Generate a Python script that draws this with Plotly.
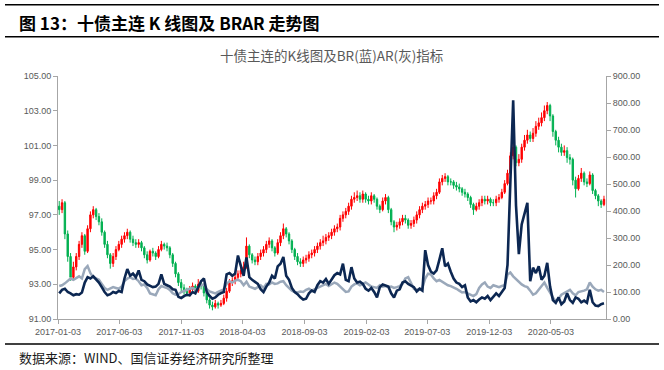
import pandas as pd
import plotly.graph_objects as go

# ---------------- data (weekly) ----------------
start_date = "2017-01-06"
n_weeks = 193

close_px = [97.3, 97.7, 95.9, 94.6, 93.4, 94.0, 94.6, 95.3, 95.8, 94.9,
            96.2, 97.0, 97.3, 96.9, 96.6, 96.0, 95.3, 94.7, 94.2, 94.6,
            95.0, 95.3, 95.6, 95.8, 96.0, 95.6, 95.4, 95.3, 95.4, 95.1,
            94.7, 94.4, 94.9, 94.8, 94.6, 95.0, 95.3, 95.2, 95.1, 94.7,
            94.2, 93.6, 93.1, 92.8, 92.6, 92.5, 92.7, 92.9, 92.6, 93.0,
            92.9, 92.5, 92.1, 91.8, 91.7, 91.9, 91.8, 91.9, 92.2, 92.6,
            93.1, 93.2, 93.4, 93.6, 93.8, 94.0, 95.2, 94.7, 94.4, 94.3,
            94.6, 94.8, 95.0, 95.3, 95.5, 95.1, 94.8, 95.4, 95.8, 96.2,
            95.9, 95.5, 95.0, 94.6, 94.3, 94.2, 94.4, 94.5, 94.7, 94.8,
            95.0, 95.2, 95.4, 95.5, 95.7, 95.8, 96.0, 96.2, 96.3, 96.8,
            97.0, 97.2, 97.5, 97.9, 98.0, 98.1, 97.9, 98.2, 97.9, 97.8,
            98.1, 97.9, 97.5, 97.3, 97.8, 98.0, 97.3, 96.6, 96.3, 96.4,
            96.6, 96.8, 96.7, 96.4, 96.5, 96.7, 97.0, 97.3, 97.5, 97.6,
            97.8, 97.8, 98.1, 98.3, 98.9, 99.1, 99.2, 98.9, 98.9, 98.7,
            98.6, 98.5, 98.3, 98.2, 98.0, 97.6, 97.3, 97.5, 97.7, 97.9,
            97.8, 97.9, 97.7, 97.7, 97.9, 98.0, 98.3, 98.8, 99.4, 100.4,
            100.9, 100.0, 100.2, 100.9, 101.3, 101.6, 101.4, 101.7, 102.1, 102.3,
            102.6, 103.0, 103.3, 102.7, 101.8, 101.3, 100.9, 100.6, 100.7, 100.3,
            100.2, 99.0, 98.5, 99.1, 99.4, 98.9, 98.8, 99.3, 98.4, 98.1,
            97.8, 97.6, 97.9]

open_px = [97.5, 97.3, 97.7, 95.9, 94.6, 93.4, 94.0, 94.6, 95.3, 95.8,
           94.9, 96.2, 97.0, 97.3, 96.9, 96.6, 96.0, 95.3, 94.7, 94.2,
           94.6, 95.0, 95.3, 95.6, 95.8, 96.0, 95.6, 95.4, 95.3, 95.4,
           95.1, 94.7, 94.4, 94.9, 94.8, 94.6, 95.0, 95.3, 95.2, 95.1,
           94.7, 94.2, 93.6, 93.1, 92.8, 92.6, 92.5, 92.7, 92.9, 92.6,
           93.0, 92.9, 92.5, 92.1, 91.8, 91.7, 91.9, 91.8, 91.9, 92.2,
           92.6, 93.1, 93.2, 93.4, 93.6, 93.8, 94.0, 95.2, 94.7, 94.4,
           94.3, 94.6, 94.8, 95.0, 95.3, 95.5, 95.1, 94.8, 95.4, 95.8,
           96.2, 95.9, 95.5, 95.0, 94.6, 94.3, 94.2, 94.4, 94.5, 94.7,
           94.8, 95.0, 95.2, 95.4, 95.5, 95.7, 95.8, 96.0, 96.2, 96.3,
           96.8, 97.0, 97.2, 97.5, 97.9, 98.0, 98.1, 97.9, 98.2, 97.9,
           97.8, 98.1, 97.9, 97.5, 97.3, 97.8, 98.0, 97.3, 96.6, 96.3,
           96.4, 96.6, 96.8, 96.7, 96.4, 96.5, 96.7, 97.0, 97.3, 97.5,
           97.6, 97.8, 97.8, 98.1, 98.3, 98.9, 99.1, 99.2, 98.9, 98.9,
           98.7, 98.6, 98.5, 98.3, 98.2, 98.0, 97.6, 97.3, 97.5, 97.7,
           97.9, 97.8, 97.9, 97.7, 97.7, 97.9, 98.0, 98.3, 98.8, 99.4,
           100.4, 100.9, 100.0, 100.2, 100.9, 101.3, 101.6, 101.4, 101.7, 102.1,
           102.3, 102.6, 103.0, 103.3, 102.7, 101.8, 101.3, 100.9, 100.6, 100.7,
           100.3, 100.2, 99.0, 98.5, 99.1, 99.4, 98.9, 98.8, 99.3, 98.4,
           98.1, 97.8, 97.6]

high_px = [97.8, 97.9, 97.8, 96.1, 94.8, 94.3, 94.8, 95.5, 96.0, 95.9,
           96.4, 97.2, 97.5, 97.4, 97.1, 96.8, 96.1, 95.5, 94.8, 94.8,
           95.2, 95.5, 95.8, 96.0, 96.2, 96.1, 95.8, 95.6, 95.6, 95.5,
           95.2, 94.9, 95.0, 95.1, 94.9, 95.2, 95.5, 95.4, 95.4, 95.2,
           94.8, 94.3, 93.7, 93.3, 93.0, 92.8, 92.9, 93.1, 93.0, 93.3,
           93.2, 93.0, 92.6, 92.2, 92.0, 92.1, 92.0, 92.1, 92.4, 92.8,
           93.3, 93.4, 93.6, 93.8, 94.0, 94.3, 95.7, 95.3, 94.8, 94.6,
           94.8, 95.0, 95.2, 95.5, 95.7, 95.6, 95.2, 95.6, 96.0, 96.5,
           96.3, 96.0, 95.6, 95.1, 94.8, 94.5, 94.6, 94.7, 94.9, 95.0,
           95.2, 95.4, 95.6, 95.8, 95.9, 96.0, 96.2, 96.4, 96.5, 97.0,
           97.2, 97.4, 97.7, 98.1, 98.3, 98.4, 98.3, 98.4, 98.3, 98.1,
           98.3, 98.2, 98.0, 97.6, 98.0, 98.2, 98.1, 97.4, 96.7, 96.6,
           96.8, 97.0, 97.0, 96.8, 96.7, 96.9, 97.2, 97.5, 97.7, 97.8,
           98.0, 98.0, 98.3, 98.5, 99.1, 99.3, 99.4, 99.3, 99.1, 99.0,
           98.9, 98.8, 98.6, 98.5, 98.3, 98.1, 97.7, 97.7, 97.9, 98.1,
           98.1, 98.1, 98.0, 97.9, 98.1, 98.2, 98.5, 99.0, 99.6, 100.6,
           101.2, 101.0, 100.5, 101.1, 101.6, 101.9, 101.8, 102.0, 102.4, 102.6,
           102.9, 103.3, 103.5, 103.4, 102.8, 101.9, 101.5, 101.1, 101.0, 100.9,
           100.5, 100.3, 99.2, 99.3, 99.7, 99.5, 99.1, 99.5, 99.4, 98.5,
           98.2, 97.9, 98.1]

low_px = [97.0, 97.1, 95.6, 94.3, 93.2, 93.2, 93.8, 94.4, 95.1, 94.7,
          94.8, 96.0, 96.8, 96.7, 96.4, 95.8, 95.1, 94.5, 93.9, 94.0,
          94.4, 94.9, 95.1, 95.4, 95.6, 95.4, 95.2, 95.1, 95.1, 94.9,
          94.5, 94.2, 94.3, 94.6, 94.4, 94.5, 94.9, 95.0, 94.9, 94.5,
          94.0, 93.4, 92.9, 92.6, 92.4, 92.3, 92.3, 92.5, 92.4, 92.5,
          92.7, 92.3, 91.9, 91.6, 91.5, 91.6, 91.6, 91.7, 91.8, 92.0,
          92.5, 92.9, 93.0, 93.2, 93.4, 93.6, 93.9, 94.5, 94.2, 94.1,
          94.1, 94.4, 94.6, 94.8, 95.1, 94.9, 94.6, 94.7, 95.2, 95.6,
          95.7, 95.3, 94.8, 94.4, 94.1, 94.0, 94.0, 94.2, 94.3, 94.5,
          94.6, 94.8, 95.0, 95.2, 95.3, 95.5, 95.6, 95.8, 96.0, 96.1,
          96.6, 96.8, 97.0, 97.3, 97.7, 97.8, 97.7, 97.7, 97.7, 97.6,
          97.6, 97.7, 97.3, 97.1, 97.2, 97.6, 97.1, 96.4, 96.0, 96.1,
          96.2, 96.4, 96.5, 96.2, 96.2, 96.3, 96.5, 96.8, 97.1, 97.3,
          97.4, 97.6, 97.6, 97.9, 98.2, 98.7, 98.9, 98.7, 98.7, 98.5,
          98.4, 98.3, 98.1, 98.0, 97.8, 97.4, 97.0, 97.2, 97.3, 97.5,
          97.6, 97.6, 97.5, 97.5, 97.5, 97.7, 97.9, 98.2, 98.7, 99.3,
          100.2, 99.8, 99.8, 100.0, 100.7, 101.1, 101.2, 101.2, 101.5, 101.9,
          102.1, 102.4, 102.8, 102.4, 101.5, 101.0, 100.6, 100.4, 100.4, 100.0,
          99.9, 98.7, 98.0, 98.4, 98.9, 98.7, 98.6, 98.7, 98.2, 97.9,
          97.5, 97.4, 97.5]

br_values = [95, 108, 112, 100, 95, 88, 92, 90, 98, 135,
             155, 150, 158, 148, 135, 118, 100, 88, 92, 100,
             96, 104, 100, 150, 185, 160, 168, 155, 180, 145,
             140, 128, 122, 118, 120, 130, 165, 130, 125, 120,
             110, 108, 82, 78, 85, 90, 88, 100, 95, 118,
             140, 150, 100, 85, 75, 80, 90, 96, 100, 165,
             170, 160, 168, 235, 200, 160, 228, 155, 145, 138,
             130, 110, 100, 120, 135, 160, 150, 195, 205, 230,
             160, 145, 115, 100, 92, 80, 72, 75, 95, 105,
             100, 125, 140, 135, 148, 130, 145, 162, 170, 165,
             205, 145, 140, 192, 150, 135, 138, 130, 112, 105,
             115, 100, 80, 118, 128, 125, 120, 95, 80, 105,
             110, 135, 140, 130, 125, 118, 102, 112, 105, 255,
             200, 175, 168, 180, 220, 262, 195, 205, 175, 150,
             135, 130, 118, 125, 80, 65, 70, 62, 72, 80,
             75, 85, 70, 82, 95, 85, 100, 115, 200, 520,
             810, 420, 240, 350, 390, 430, 140, 190, 170, 195,
             145, 160, 208, 120, 70, 60, 80, 55, 65, 95,
             70, 60, 80, 75, 62, 68, 60, 108, 62, 50,
             48, 55, 58]

ar_values = [122, 125, 132, 140, 150, 145, 152, 158, 150, 185,
             196, 170, 155, 150, 145, 130, 115, 108, 112, 118,
             115, 112, 120, 140, 150, 155, 148, 150, 140, 125,
             128, 115, 95, 90, 88, 110, 122, 118, 115, 108,
             95, 90, 92, 100, 105, 110, 112, 115, 108, 118,
             125, 128, 110, 102, 98, 95, 100, 105, 110, 130,
             140, 135, 142, 145, 140, 125, 138, 120, 115, 112,
             118, 125, 115, 130, 128, 135, 130, 132, 138, 140,
             125, 115, 105, 100, 98, 102, 100, 108, 112, 105,
             110, 115, 118, 125, 130, 122, 128, 135, 130, 120,
             110, 100, 102, 120, 128, 132, 125, 130, 135, 128,
             120, 118, 115, 125, 120, 122, 118, 120, 115, 118,
             122, 130, 150, 155, 130, 112, 108, 110, 115, 150,
             168, 165, 150, 140, 145, 138, 130, 125, 122, 118,
             112, 105, 98, 100, 95, 88, 85, 92, 115, 128,
             135, 120, 115, 125, 122, 118, 122, 125, 165, 172,
             158, 148, 140, 128, 122, 118, 105, 90, 95, 108,
             120, 135, 115, 95, 80, 65, 75, 90, 95, 100,
             108, 95, 88, 100, 102, 105, 110, 135, 120, 110,
             105, 108, 100]

x_tick_dates = ["2017-01-03", "2017-06-03", "2017-11-03", "2018-04-03", "2018-09-03",
                "2019-02-03", "2019-07-03", "2019-12-03", "2020-05-03"]
left_ticks = [91, 93, 95, 97, 99, 101, 103, 105]
right_ticks = [0, 100, 200, 300, 400, 500, 600, 700, 800, 900]

header_text = "图 13：十债主连 K 线图及 BRAR 走势图"
chart_title = "十债主连的K线图及BR(蓝)AR(灰)指标"
source_text = "数据来源：WIND、国信证券经济研究所整理"

# ---------------- figure ----------------
dates = pd.date_range(start=start_date, periods=n_weeks, freq="7D")

W, H = 664, 370
ML, MR, MT, MB = 58, 58, 76, 51
PW, PH = W - ML - MR, H - MT - MB


def px_x(p):
    return (p - ML) / PW


def px_y(p):
    return (H - MB - p) / PH


RED = "#FF0000"
GREEN = "#00B050"
BR_COLOR = "#0C2752"
AR_COLOR = "#9AA8BA"
AXIS_COLOR = "#A6A6A6"
TXT = "#595959"
NUM_FONT = "Liberation Sans"
CJK = "Noto Sans CJK SC"

fig = go.Figure()

fig.add_trace(go.Candlestick(
    x=dates, open=open_px, high=high_px, low=low_px, close=close_px,
    increasing=dict(line=dict(color=RED, width=1), fillcolor=RED),
    decreasing=dict(line=dict(color=GREEN, width=1), fillcolor=GREEN),
    whiskerwidth=0, showlegend=False, name="十债主连", yaxis="y",
))
fig.add_trace(go.Scatter(
    x=dates, y=ar_values, mode="lines", name="AR",
    line=dict(color=AR_COLOR, width=2.5), yaxis="y2", showlegend=False,
))
fig.add_trace(go.Scatter(
    x=dates, y=br_values, mode="lines", name="BR",
    line=dict(color=BR_COLOR, width=2.6), yaxis="y2", showlegend=False,
))

axis_common = dict(showgrid=False, zeroline=False, showline=True, linecolor=AXIS_COLOR,
                   linewidth=1, ticks="outside", ticklen=4, tickcolor=AXIS_COLOR,
                   tickfont=dict(family=NUM_FONT, size=9, color=TXT))

fig.update_layout(
    width=W, height=H,
    margin=dict(l=ML, r=MR, t=MT, b=MB, pad=0),
    paper_bgcolor="white", plot_bgcolor="white",
    showlegend=False,
    xaxis=dict(type="date", range=["2017-01-03", "2020-09-16"],
               tickvals=x_tick_dates, ticktext=x_tick_dates,
               rangeslider=dict(visible=False), **axis_common),
    yaxis=dict(range=[91, 105], tickvals=left_ticks, tickformat=".2f", **axis_common),
    yaxis2=dict(range=[0, 900], tickvals=right_ticks, tickformat=".2f",
                overlaying="y", side="right", **axis_common),
)

line_style = dict(color="#000000", width=1.5)
for yy in (4.7, 36.7, 344):
    fig.add_shape(type="line", xref="paper", yref="paper",
                  x0=px_x(5), x1=px_x(659), y0=px_y(yy), y1=px_y(yy), line=line_style)

fig.add_annotation(text="<b>" + header_text + "</b>", xref="paper", yref="paper",
                   x=px_x(17), y=px_y(22.7), xanchor="left", yanchor="middle",
                   showarrow=False, font=dict(family=CJK, size=17, color="#000000"))
fig.add_annotation(text=chart_title, xref="paper", yref="paper",
                   x=px_x(331), y=px_y(55), xanchor="center", yanchor="middle",
                   showarrow=False, font=dict(family=CJK, size=13.5, color=TXT))
fig.add_annotation(text=source_text, xref="paper", yref="paper",
                   x=px_x(17), y=px_y(357.3), xanchor="left", yanchor="middle",
                   showarrow=False, font=dict(family=CJK, size=13, color="#1A1A1A"))

fig.write_html("out.html", config={"displayModeBar": False},
               post_script="document.body.style.margin='0';document.body.style.padding='0';")
